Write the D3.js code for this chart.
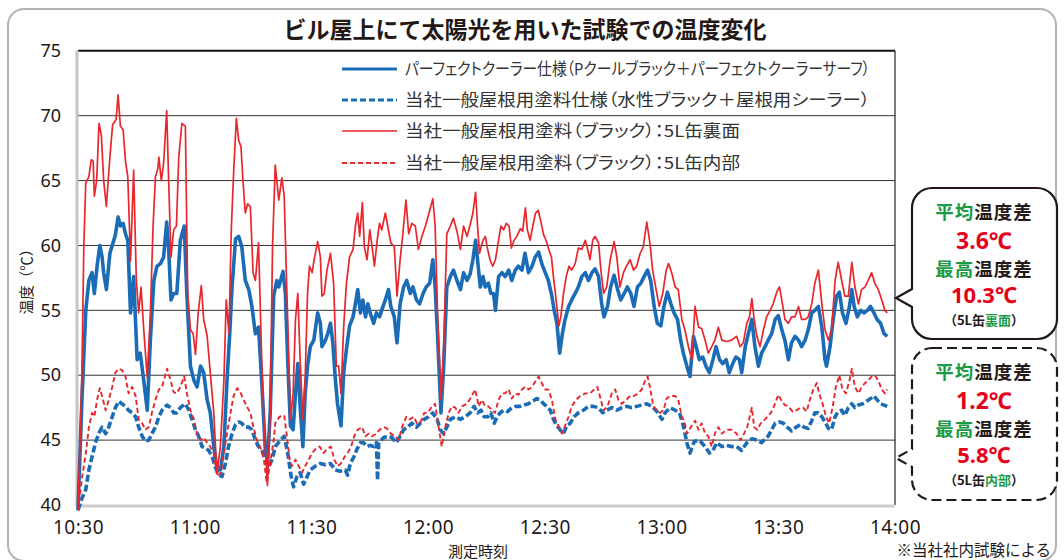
<!DOCTYPE html>
<html lang="ja">
<head>
<meta charset="utf-8">
<script src="https://cdn.jsdelivr.net/npm/d3@7"></script>
<style>
  html, body { margin: 0; padding: 0; background: #fff; }
  svg { display: block; }
  text { font-family: "Noto Sans CJK JP", "Noto Sans", sans-serif; }
</style>
</head>
<body>
<script>
const width = 1064;
const height = 560;

// axis ticks
const minuteTicks = [0, 30, 60, 90, 120, 150, 180, 210];
const timeLabels = ["10:30", "11:00", "11:30", "12:00", "12:30", "13:00", "13:30", "14:00"];
const tempTicks = [40, 45, 50, 55, 60, 65, 70, 75];

const legendLabels = [
  "パーフェクトクーラー仕様（Pクールブラック＋パーフェクトクーラーサーフ）",
  "当社一般屋根用塗料仕様（水性ブラック＋屋根用シーラー）",
  "当社一般屋根用塗料（ブラック）：5L缶裏面",
  "当社一般屋根用塗料（ブラック）：5L缶内部"
];

// [minutes after 10:30, °C]
const coolerSpec = [[0,39.6],[1,48],[2,55],[2.8,57.3],[3.6,57.9],[4.2,56.3],[4.9,58.4],[5.6,60],[6.2,59.1],[6.6,57.9],[7.3,56.6],[8.2,59.4],[9,60.2],[9.6,60.8],[10.3,62.2],[10.9,61.5],[11.6,61.7],[12.2,60.9],[12.8,60.4],[13.5,54.8],[14.3,57.6],[15.2,51.2],[16,51.7],[16.9,49.6],[17.8,47.3],[18.6,52.7],[19.5,57.3],[20.3,58.4],[21.2,58.6],[22,59.1],[22.8,61.8],[23.3,59.7],[23.9,55.8],[24.6,56.3],[25.4,56.3],[26.3,60.4],[27.3,61.5],[28,56.1],[28.9,50.7],[29.8,49.6],[30.6,49.1],[31.5,50.7],[32.3,50.2],[33.2,48.1],[34,47.1],[34.9,44.5],[35.7,42.9],[36.6,42.7],[37.5,44.5],[38.3,49.6],[39,53.2],[39.6,56.8],[40.5,60.5],[41.3,60.7],[42.1,59.9],[43,57.3],[43.9,56.6],[44.7,55.3],[45.6,53.2],[46.4,53.7],[47.3,49.1],[48.1,44.5],[48.7,43.2],[49.4,47.1],[50.3,56.1],[51.1,57.3],[51.6,56.8],[52.7,58],[53.3,56.3],[53.9,51.2],[54.6,46.1],[55.3,45.8],[55.9,48.6],[56.5,50.9],[57.1,47.6],[57.8,44.5],[58.4,48.6],[59,50.7],[59.7,52.2],[60.6,52.7],[61.6,54.8],[62.3,54],[62.7,52.2],[63.6,52.7],[64.2,53.2],[64.9,54],[65.5,52.5],[66.1,49.9],[66.7,47.8],[67.6,46.1],[68.3,50.2],[69,52],[69.8,53.8],[70.7,54.5],[71.3,55.5],[71.9,56.6],[72.6,54.8],[73.2,55.8],[73.9,54.5],[74.5,55.5],[75.1,54.8],[76,54],[76.7,54.8],[77.5,54.5],[78.4,55.3],[79,55.8],[79.8,56.6],[80.4,55.3],[81.3,54.5],[82,52.5],[82.8,55.5],[83.7,56.8],[84.5,57.3],[85.4,56.3],[86.1,56.8],[87,55.8],[87.8,55.5],[88.7,56.3],[89.5,56.8],[90.4,57.1],[91.2,58.9],[91.8,56.8],[92.4,53.2],[93.3,47.1],[94,50.7],[94.8,56.8],[95.7,57.6],[96.5,58.1],[97.4,57.3],[98.3,56.6],[99.1,57.9],[100,57.3],[100.8,57.8],[101.5,58.9],[102.2,60.4],[102.7,58.9],[103.4,56.8],[104.1,57.6],[104.7,56.8],[105.5,57.1],[106.1,56.3],[106.8,56.3],[107.3,55],[108.1,57.6],[109,57.9],[109.8,57.6],[110.7,58.1],[111.5,57.3],[112.4,58.1],[113.2,58.4],[114.1,58.1],[114.9,59.4],[115.8,57.9],[116.7,58.4],[117.5,59.1],[118.4,59.5],[119.2,58.6],[120.1,57.9],[120.9,57.3],[121.8,56.1],[122.4,55],[123.1,54],[123.8,51.7],[124.5,53.2],[125.2,54.3],[126.1,55.3],[126.9,55.8],[127.8,56.3],[128.6,56.8],[129.5,57.6],[130.4,57.9],[131.2,57.3],[132.1,57.9],[132.9,58.2],[133.8,57.6],[134.6,55.5],[135.2,54.5],[136.1,55.3],[136.9,56.8],[137.8,57.7],[138.7,56.6],[139.5,55.8],[140.4,56.3],[141.2,56.8],[142.1,56.3],[142.9,55.3],[143.8,56.8],[144.7,57.1],[145.5,57.6],[146.4,58.1],[147.2,57.3],[148.1,55.3],[148.9,54],[149.8,53.8],[150.6,55.3],[151.5,56.4],[152.4,55.5],[153.2,54.8],[154.1,54.3],[154.9,52.7],[155.6,51.7],[156.5,50.7],[157.3,49.9],[158.2,53],[158.9,52.2],[159.7,51.2],[160.6,51.4],[161.4,50.7],[162.3,50.2],[163.2,51.2],[164,52.2],[164.9,51.2],[165.7,50.9],[166.6,51.2],[167.4,50.2],[168.3,50.9],[169.1,51.4],[170,51.2],[170.6,50.2],[171.5,52.2],[172.3,53.2],[173.2,54.3],[174,52.2],[174.9,50.7],[175.7,51.7],[176.6,52.2],[177.4,52.7],[178.3,53.2],[179.2,54.3],[180,54.6],[180.9,53.5],[181.7,52.7],[182.6,51.2],[183.4,52.5],[184.3,53],[185.2,52.7],[186,52.2],[186.9,52.7],[187.7,53.5],[188.6,54.8],[189.4,55],[190.3,55.3],[191.2,53.7],[192,51.2],[192.4,50.7],[193.3,52.2],[194.1,54.3],[195,56.1],[195.7,56.4],[196.5,54.8],[197.4,54],[198.3,55.3],[198.9,56.6],[199.5,55.3],[200.3,54.5],[201.2,55],[202,54.8],[202.9,55],[203.7,55.3],[204.6,54.8],[205.4,54.3],[206.3,54],[207.2,53.2],[208,53]];

const generalSpec = [[0,39.6],[1,40.5],[2,41.2],[2.8,42.7],[3.6,43.7],[4.5,44.8],[5.3,45.5],[6.2,46],[7.1,45.5],[7.9,46],[8.8,46.8],[9.6,47.5],[10.5,48],[11.3,47.8],[12.2,47.6],[13,47.3],[13.9,47.1],[14.8,46.8],[15.6,46],[16.5,45.3],[17.3,44.9],[18.2,45],[19,45.5],[19.9,46],[20.8,46.8],[21.6,47.3],[22.9,47.7],[23.8,47.5],[24.6,47.1],[25.4,47.1],[26.3,47.5],[27.6,47.8],[28.5,47.3],[29.3,46.6],[30.2,45.8],[31,45.3],[31.9,44.5],[32.7,44.4],[33.6,44.2],[34.5,43.7],[35.3,42.9],[36.2,42.3],[37,42.2],[37.9,43.2],[38.7,44.5],[39.6,45.5],[40.5,46.2],[41.3,46.4],[42.1,46.3],[43,46],[43.9,46],[44.7,45.8],[45.6,45],[46.4,44.5],[47.3,44.2],[48.1,43.5],[49,42.9],[49.9,43.5],[50.7,44.5],[52,45],[53,45.3],[53.9,44],[54.8,42.2],[55.4,41.4],[56.3,42.2],[57.1,42.5],[58,41.6],[58.9,42.2],[59.7,42.7],[61,43],[62.3,43.2],[63.6,43.1],[64.9,43.2],[66.1,42.7],[67.4,42.6],[68.7,42.7],[69.3,42.3],[70,43.2],[70.9,43.7],[71.7,44.3],[72.6,44.8],[73.4,44.8],[74.3,44.5],[75.1,44.6],[76,44.5],[76.7,44.8],[77,41.9],[77.3,44.8],[78.6,45.2],[79.6,45.3],[80.7,45.2],[81.8,44.8],[82.8,45.3],[83.7,45.8],[84.7,46],[85.8,46.3],[87,46],[88,46.3],[89,46.6],[90.1,46.8],[91.2,47.1],[92.3,46.6],[93.1,45.8],[94,45.5],[94.8,46],[95.7,46.6],[97,46.8],[98.3,46.6],[99.5,46.8],[100.8,47.1],[101.8,47.6],[102.7,47.1],[103.6,47.3],[104.4,46.8],[105.3,46.8],[106.1,47.1],[107,46.3],[107.7,46.8],[108.5,47.1],[109.4,47.3],[110.4,47.2],[111.5,47.5],[112.6,47.6],[113.7,47.6],[114.7,47.7],[115.8,47.8],[116.9,48],[117.9,48.2],[118.8,48.1],[119.7,47.8],[120.5,47.6],[121.4,47.3],[122.2,46.6],[123.1,46.1],[123.9,45.8],[124.8,45.5],[125.6,46.1],[126.5,46.3],[127.5,46.8],[128.6,47.1],[129.9,47.3],[131.2,47.6],[132.5,47.6],[133.8,47.5],[134.9,47.1],[135.9,47.3],[137.2,47.5],[138.5,47.3],[139.8,47.5],[141.1,47.6],[142.3,47.5],[143.6,47.6],[144.9,47.7],[146.2,47.8],[147.5,47.6],[148.8,47.2],[150.1,46.6],[150.9,47.1],[152.2,47.5],[153.5,47.3],[154.6,47.1],[155.6,46.1],[156.5,44.8],[157.3,44],[158.4,44.9],[159.5,45],[160.3,44.8],[161.2,44.5],[162.3,44],[163.2,44.2],[164.2,44.8],[165.5,44.5],[166.7,44.6],[168,44.5],[169.3,44.5],[170.6,44.2],[171.9,44.8],[173.2,45.1],[174.5,45],[175.7,44.8],[176.6,45.1],[177.4,45.3],[178.3,45.8],[179.2,46.3],[180.3,46.4],[181.3,46.3],[182.3,46],[183.4,45.7],[184.6,46],[185.6,46.2],[186.6,46],[187.7,45.9],[188.6,46.5],[189.4,47.1],[190.3,47.1],[191.2,46.8],[192,46.4],[192.9,45.9],[193.7,45.8],[194.6,46.8],[195.4,47.2],[196.3,47.3],[197.1,46.9],[198,47.5],[198.9,47.8],[199.7,47.5],[200.6,47.7],[201.7,47.8],[202.7,48],[203.7,48.2],[204.6,48.4],[205.4,48.1],[206.3,47.8],[207.2,47.7],[208,47.6]];

const canBack = [[0,39.6],[1,50],[1.5,60],[2,64.8],[2.8,65.3],[3.4,66.6],[3.9,66.5],[4.2,63.8],[4.8,65],[5.4,69.4],[6,68.5],[6.6,65],[7.3,63],[7.9,65.6],[8.5,67.9],[8.9,69.3],[9.8,69.7],[10.3,71.6],[10.9,69.2],[11.6,68.9],[12.2,66.5],[12.8,65.3],[13.5,58.8],[14.3,65.8],[15,57.3],[15.6,54.8],[16.2,56.8],[16.9,53.5],[17.8,49.8],[18.6,54.8],[19.3,61.5],[19.9,65.3],[20.5,65.9],[20.8,66.8],[21.4,65],[22,66.3],[22.8,70.4],[23.3,65],[23.9,59.1],[24.6,61.2],[25.3,61.5],[25.9,66.8],[26.7,69.4],[27.6,69.2],[28.2,56.3],[28.9,53.5],[29.6,53.2],[30.2,51.6],[30.9,54.8],[31.7,56.9],[32.3,54.3],[33.2,53],[34,50.2],[34.9,47.1],[35.7,42.4],[36.6,44.5],[37.5,49.6],[38.1,55.8],[38.8,53.2],[39.4,61.2],[40,65.6],[40.7,69.8],[41.3,68.1],[41.9,67.6],[42.4,65],[43,62.5],[43.6,63.2],[44.3,63],[45,57.9],[45.6,57.3],[46.4,60.2],[47.3,50.4],[48.1,44.5],[48.7,41.5],[49.4,47.1],[50,59.9],[50.7,66.2],[51.6,63.5],[52.4,65.2],[53,63.8],[53.7,56.3],[54.6,46.6],[55.3,48.6],[55.9,54.3],[56.5,56.3],[57.1,51.2],[57.8,46.6],[58.4,49.9],[59,56.3],[59.5,58.4],[60.2,57.9],[60.7,58.9],[61.6,60.3],[62.3,59.1],[62.7,56.1],[63.3,56.3],[64,58.1],[64.9,59.4],[65.7,57.1],[66.4,50.7],[67,50.7],[67.6,48.6],[68.3,53.8],[69,57.1],[69.8,59.1],[70.7,59.7],[71.3,61.5],[71.9,62.5],[72.4,60.7],[73.1,63.3],[73.6,59.9],[74.3,58.9],[75,61.2],[75.6,59.9],[76.2,58.4],[76.9,60.4],[77.5,61.7],[78.1,61.2],[79,62.5],[79.6,61.5],[80.4,60.2],[81.3,59.9],[82,56.1],[82.8,58.9],[83.5,60.9],[84.3,63.5],[85,60.9],[85.8,61.7],[86.7,61.5],[87.5,59.7],[88.4,60.7],[89.3,61.5],[90.4,62.7],[91.2,63.6],[91.8,61.5],[92.4,55],[93.3,48.1],[94,52.2],[94.8,60.9],[95.7,61.5],[96.5,62.1],[97.4,61.1],[98.3,59.7],[99.1,61.5],[100,60.7],[100.8,61.6],[101.5,62.5],[102.2,64.1],[102.7,61.5],[103.2,59.4],[104.1,60.4],[104.7,60.7],[105.3,59.7],[105.9,58.9],[106.6,58.4],[107.3,58.9],[108.1,60.4],[108.7,61.5],[109.4,61.2],[110.1,61.7],[110.8,61.5],[111.4,59.8],[112.1,60.4],[112.8,60.7],[113.7,61.3],[114.3,61.1],[115,62.9],[115.5,61.2],[116.2,60.4],[116.9,61.5],[117.6,62.5],[118.3,62.7],[119,61.8],[119.7,60.8],[120.3,60.4],[121,59.7],[121.7,59.1],[122.2,57.6],[122.9,55.8],[123.6,53.8],[124.1,54.5],[124.8,56.3],[125.5,57.6],[126.2,58.4],[126.9,58.1],[127.8,58.6],[128.6,59.8],[129.5,59.7],[130.4,60.4],[131,59.7],[131.6,58.9],[132.3,60.4],[132.9,60.7],[133.8,60.2],[134.4,58.1],[135.1,56.3],[135.9,56.8],[136.8,58.9],[137.8,60.3],[138.5,59.1],[139.3,56.8],[140.2,57.9],[141,58.4],[141.9,58.9],[142.8,58.1],[143.6,58.4],[144.5,59.4],[145.3,59.9],[146.2,61.8],[147,60.2],[147.7,58.1],[148.6,56.6],[149.4,55.3],[150.3,56.3],[151.2,58.1],[151.8,58.6],[152.6,57.9],[153.5,56.8],[154.3,56.6],[155.2,54.3],[156,53.5],[156.9,52.2],[157.8,51.2],[158.6,55.3],[159.5,53.7],[160.3,53.6],[161.2,52.7],[162,51.7],[162.9,52.2],[163.7,52.7],[164.6,53.7],[165.5,52.7],[166.7,52.6],[168,52.7],[169.3,53],[170.2,52.2],[171,52.5],[171.9,54],[172.6,54.5],[173.2,55.9],[173.8,54.3],[174.5,53],[175.3,52.2],[176.2,53.5],[177,54.5],[177.9,55],[178.7,55.5],[179.6,56.4],[180.3,56.8],[180.9,55.8],[181.7,54.3],[182.6,54],[183.4,54.5],[184.3,54.5],[185.2,55.3],[186,54.3],[186.9,54.3],[187.7,54.5],[188.6,55.5],[189.4,57.1],[190.3,58.1],[191.2,55.5],[192,53.5],[192.9,52.7],[193.7,53.5],[194.6,57.3],[195.4,58.7],[196.3,57.3],[197.1,56.1],[198,56.1],[198.9,58.7],[199.7,56.8],[200.6,55.5],[201.4,56.6],[202.3,56.8],[203.1,57.3],[204,57.9],[204.8,57.1],[205.7,56.6],[206.6,55.8],[207.4,55],[208,54.8]];

const canInside = [[0,39.6],[1,42],[2,44],[2.8,46],[3.6,47.1],[4.2,46.8],[4.9,48.1],[5.6,49],[6.2,48.4],[7.1,47.3],[7.9,48.1],[8.8,49.1],[9.6,50.2],[10.5,50.5],[11.3,50.4],[12.2,49.9],[13,48.6],[13.9,49.1],[14.8,48.4],[15.6,46.6],[16.5,46.3],[17.3,45.8],[18.2,46],[19,47.1],[19.9,48.1],[20.8,48.9],[21.6,49.1],[22.9,50.5],[23.8,49.6],[24.6,48.7],[25.4,48.6],[26.3,49.1],[27.3,49.9],[28,48.6],[28.9,47.3],[29.8,46.6],[30.6,45.5],[31.5,45],[32.3,45.2],[33.2,44.8],[34,44.5],[34.9,44],[35.7,42.3],[36.6,42.4],[37.5,44],[38.3,45.5],[39.2,47.1],[40,48.4],[40.9,49],[41.7,48.7],[42.6,48.1],[43.4,47.6],[44.3,47.1],[45.1,46],[46,45],[46.8,44.5],[47.7,43.7],[48.5,41.7],[49.4,43.2],[50.3,45],[50.7,46.3],[51.8,46.8],[53,46.9],[53.7,45.3],[54.4,43.5],[55,43],[55.9,43.5],[56.7,43],[57.6,42.5],[58.4,43],[59.3,43.5],[60.2,44],[61,44.3],[62.1,44.5],[63.1,44],[64,44.3],[65,44.5],[65.9,43.5],[66.7,43],[67.6,43.2],[68.5,43.7],[69.3,44],[70.2,44.5],[71,45.3],[71.9,45.8],[73,46],[73.9,45.3],[74.7,45.5],[75.6,45.3],[76.7,45.5],[77.5,45.8],[78.6,46],[79.4,45.9],[80.4,45.5],[81.5,45.3],[82.4,45],[83.3,46],[84.4,46.8],[85.2,46.6],[86.3,46.8],[87.1,46.3],[88.1,46.4],[89,47.1],[89.9,47.1],[91,47.6],[91.8,47.8],[92.7,46],[93.5,44.5],[94.4,46],[95.3,47.1],[96.1,47.6],[97,47.5],[97.8,47.1],[98.7,47.6],[100,47.8],[101.2,48.4],[102.1,48.9],[103,47.6],[103.8,48.1],[104.7,47.6],[105.5,47.6],[106.4,47.3],[107.2,47.1],[108.1,48.1],[109,48.6],[109.8,48.6],[110.7,48.9],[111.5,48.2],[112.4,48.6],[113.2,48.5],[114.1,48.9],[114.9,49.1],[115.8,48.9],[116.7,49.1],[117.5,49.5],[118.4,49.9],[119.2,49.4],[120.1,48.9],[120.9,48.9],[121.8,48.1],[122.7,46.6],[123.5,46.1],[124.4,45.5],[125.2,46.1],[126.1,46.8],[126.9,47.6],[128,48.1],[129.1,48.4],[130.4,48.6],[131.6,48.6],[132.7,48.9],[133.5,49.1],[134.4,48.1],[135.1,47.3],[136.1,47.6],[137.2,48.6],[138.1,48.9],[138.9,48.1],[139.8,47.8],[140.9,48.1],[141.9,48.4],[142.9,48.4],[144,48.6],[144.9,48.9],[145.8,49.6],[146.4,49.9],[147,49.1],[147.9,47.6],[148.8,47.3],[149.6,47.1],[150.5,47.3],[151.3,48.2],[152.2,48.4],[153.5,48.4],[154.3,48.1],[155.2,46.8],[155.8,46.5],[156.6,45.5],[157.5,46],[158.6,46.5],[159.5,45.8],[160.3,46.3],[161.2,45.5],[162,45.3],[162.9,44.5],[163.7,45.5],[164.6,46],[165.5,45.5],[166.7,45.8],[168,45.8],[169.3,45.5],[170.3,45],[171.2,45.5],[172,46],[173.2,47.5],[173.8,46],[174.6,45.8],[175.5,46.3],[176.3,46.5],[177.2,46.8],[178.1,47.1],[178.9,47.6],[180,48.5],[180.9,48],[181.7,47.7],[182.6,47.6],[183.7,47.2],[184.7,47.3],[185.6,47.5],[186.4,47.5],[187.3,47.2],[188.1,48.1],[189,48.9],[189.9,49.4],[190.5,48.6],[191.4,47.8],[192.3,46.8],[193.1,46.3],[194,47.6],[194.8,49.1],[195.7,50],[196.5,48.9],[197.4,48.6],[198.3,49.6],[198.9,50.5],[199.7,49.1],[200.6,48.6],[201.4,49.1],[202.3,49.4],[203.1,49.6],[204,49.9],[204.8,50],[205.7,49.6],[206.6,48.9],[207.4,48.6],[208,48.9]];

// callout figures
const avgDiff = ["3.6℃", "1.2℃"];
const maxDiff = ["10.3℃", "5.8℃"];
const diffWhere = ["裏面", "内部"];

const BLUE = "#1b6cb6";
const RED = "#e8262c";
const GREEN = "#1a9a45";
const INK = "#231815";

const series = [
  { data: coolerSpec, color: BLUE, width: 3.6, dash: null },
  { data: generalSpec, color: BLUE, width: 3.6, dash: "7,3" },
  { data: canInside, color: RED, width: 1.9, dash: "5,3" },
  { data: canBack, color: RED, width: 1.7, dash: null }
];
// legend order follows the labels
const legendStyle = [
  { color: BLUE, width: 3, dash: null },
  { color: BLUE, width: 3, dash: "6,3" },
  { color: RED, width: 1.6, dash: null },
  { color: RED, width: 2, dash: "5,3" }
];
const legendWidths = [465, 465, 335, 335];

const svg = d3.select("body")
  .append("svg")
  .attr("width", width)
  .attr("height", height);

// outer frame
svg.append("rect")
  .attr("x", 8).attr("y", 9)
  .attr("width", 1048).attr("height", 552)
  .attr("rx", 16)
  .attr("fill", "none")
  .attr("stroke", "#b4b4b4")
  .attr("stroke-width", 2);

svg.append("text")
  .attr("x", 525).attr("y", 38)
  .attr("text-anchor", "middle")
  .attr("font-size", 23)
  .attr("font-weight", "bold")
  .attr("fill", INK)
  .text("ビル屋上にて太陽光を用いた試験での温度変化");

const x = d3.scaleLinear().domain([0, 210]).range([78, 895]);
const y = d3.scaleLinear().domain([40, 75]).range([505, 50.8]);

// grid
svg.append("g")
  .selectAll("line")
  .data(tempTicks.filter(t => t > 40 && t < 75))
  .enter()
  .append("line")
  .attr("x1", x(0)).attr("x2", x(210))
  .attr("y1", d => y(d)).attr("y2", d => y(d))
  .attr("stroke", "#333")
  .attr("stroke-width", 1);

svg.append("line")
  .attr("x1", x(0)).attr("x2", x(210))
  .attr("y1", y(75)).attr("y2", y(75))
  .attr("stroke", "#111").attr("stroke-width", 2);

svg.append("line")
  .attr("x1", x(210)).attr("x2", x(210))
  .attr("y1", y(75)).attr("y2", y(40))
  .attr("stroke", "#222").attr("stroke-width", 1.2);

svg.append("line")
  .attr("x1", x(0) - 1).attr("x2", x(0) - 1)
  .attr("y1", y(75)).attr("y2", y(40) + 2)
  .attr("stroke", "#c4c4c4").attr("stroke-width", 3);

svg.append("line")
  .attr("x1", x(0) - 2).attr("x2", x(210))
  .attr("y1", y(40) + 1).attr("y2", y(40) + 1)
  .attr("stroke", "#cbcbcb").attr("stroke-width", 3);

// axes labels
const yAxis = d3.axisLeft(y)
  .tickValues(tempTicks)
  .tickSize(0)
  .tickPadding(17);

const gy = svg.append("g")
  .attr("transform", `translate(${x(0)},0)`)
  .call(yAxis);
gy.select(".domain").remove();
gy.selectAll("text")
  .attr("font-size", 18)
  .attr("fill", INK)
  .style("font-family", "'Noto Sans', sans-serif");

const xAxis = d3.axisBottom(x)
  .tickValues(minuteTicks)
  .tickFormat((d, i) => timeLabels[i])
  .tickSize(0)
  .tickPadding(16);

const gx = svg.append("g")
  .attr("transform", `translate(0,${y(40)})`)
  .call(xAxis);
gx.select(".domain").remove();
gx.selectAll("text")
  .attr("font-size", 19)
  .attr("fill", INK)
  .attr("letter-spacing", 0.5)
  .style("font-family", "'Noto Sans', sans-serif");

svg.append("text")
  .attr("transform", "translate(32,278) rotate(-90)")
  .attr("text-anchor", "middle")
  .attr("font-size", 14.5)
  .attr("fill", INK)
  .text("温度（℃）");

svg.append("text")
  .attr("x", 478).attr("y", 557)
  .attr("text-anchor", "middle")
  .attr("font-size", 15)
  .attr("fill", INK)
  .text("測定時刻");

svg.append("text")
  .attr("x", 1051).attr("y", 556)
  .attr("text-anchor", "end")
  .attr("font-size", 15.5)
  .attr("fill", INK)
  .text("※当社社内試験による");

// lines
const line = d3.line()
  .x(d => x(d[0]))
  .y(d => y(d[1]));

svg.append("g")
  .selectAll("path")
  .data(series)
  .enter()
  .append("path")
  .attr("d", d => line(d.data))
  .attr("fill", "none")
  .attr("stroke", d => d.color)
  .attr("stroke-width", d => d.width)
  .attr("stroke-dasharray", d => d.dash)
  .attr("stroke-linejoin", "round");

// legend
const legendY = [69, 100, 131, 163];
const legend = svg.append("g");
legend.selectAll("line")
  .data(legendStyle)
  .enter()
  .append("line")
  .attr("x1", 342).attr("x2", 397)
  .attr("y1", (d, i) => legendY[i]).attr("y2", (d, i) => legendY[i])
  .attr("stroke", d => d.color)
  .attr("stroke-width", d => d.width)
  .attr("stroke-dasharray", d => d.dash);

legend.selectAll("text")
  .data(legendLabels)
  .enter()
  .append("text")
  .attr("x", 405)
  .attr("y", (d, i) => legendY[i])
  .attr("dy", "0.35em")
  .attr("font-size", 16.5)
  .attr("fill", "#333")
  .attr("textLength", (d, i) => legendWidths[i])
  .attr("lengthAdjust", "spacingAndGlyphs")
  .style("font-feature-settings", "'palt' 1")
  .text(d => d);

// callouts
function calloutPath(x0, y0, x1, y1, r, py, tipX) {
  return `M${x0 + r},${y0} H${x1 - r} A${r},${r} 0 0 1 ${x1},${y0 + r}` +
    ` V${y1 - r} A${r},${r} 0 0 1 ${x1 - r},${y1} H${x0 + r}` +
    ` A${r},${r} 0 0 1 ${x0},${y1 - r} V${py + 9} L${tipX},${py} L${x0},${py - 9}` +
    ` V${y0 + r} A${r},${r} 0 0 1 ${x0 + r},${y0} Z`;
}

const boxes = [
  { y0: 188, y1: 339, py: 298, dash: null },
  { y0: 348, y1: 500, py: 458, dash: "10,5" }
];

boxes.forEach((b, i) => {
  const g = svg.append("g");
  g.append("path")
    .attr("d", calloutPath(912, b.y0, 1057, b.y1, 20, b.py, 896))
    .attr("fill", "#fff")
    .attr("stroke", INK)
    .attr("stroke-width", 2.2)
    .attr("stroke-dasharray", b.dash);

  const cx = 984;
  const head = (yy) => g.append("text")
    .attr("x", cx).attr("y", yy)
    .attr("text-anchor", "middle")
    .attr("dy", "0.35em")
    .attr("font-size", 18.5)
    .attr("font-weight", "bold")
    .attr("letter-spacing", 1)
    .attr("fill", INK);

  const h1 = head(b.y0 + 25);
  h1.append("tspan").attr("fill", GREEN).text("平均");
  h1.append("tspan").text("温度差");

  g.append("text")
    .attr("x", cx).attr("y", b.y0 + 53)
    .attr("text-anchor", "middle")
    .attr("dy", "0.35em")
    .attr("font-size", 23)
    .attr("font-weight", "bold")
    .attr("fill", "#e60019")
    .style("font-family", "'Noto Sans', 'Noto Sans CJK JP', sans-serif")
    .text(avgDiff[i]);

  const h2 = head(b.y0 + 82);
  h2.append("tspan").attr("fill", GREEN).text("最高");
  h2.append("tspan").text("温度差");

  g.append("text")
    .attr("x", cx).attr("y", b.y0 + 107)
    .attr("text-anchor", "middle")
    .attr("dy", "0.35em")
    .attr("font-size", 22)
    .attr("font-weight", "bold")
    .attr("fill", "#e60019")
    .style("font-family", "'Noto Sans', 'Noto Sans CJK JP', sans-serif")
    .text(maxDiff[i]);

  const note = g.append("text")
    .attr("x", cx).attr("y", b.y0 + 132)
    .attr("text-anchor", "middle")
    .attr("dy", "0.35em")
    .attr("font-size", 13)
    .attr("font-weight", "bold")
    .attr("fill", INK);
  note.append("tspan").text("（5L缶");
  note.append("tspan").attr("fill", GREEN).text(diffWhere[i]);
  note.append("tspan").text("）");
});
</script>
</body>
</html>
